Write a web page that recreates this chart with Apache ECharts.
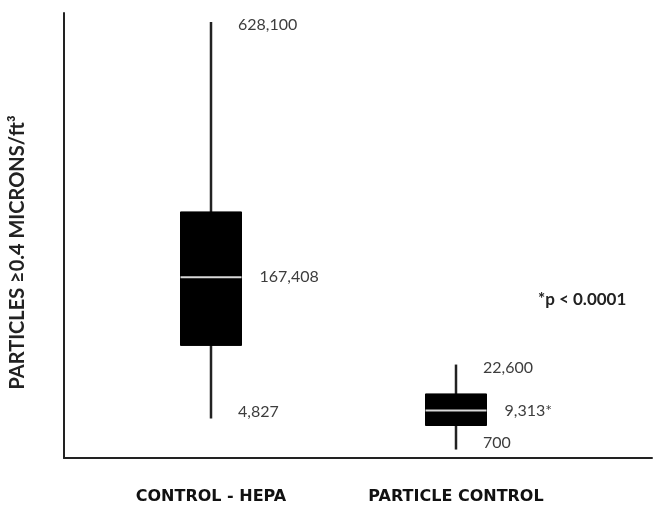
<!DOCTYPE html>
<html>
<head>
<meta charset="utf-8">
<script src="https://cdn.jsdelivr.net/npm/echarts@6/dist/echarts.min.js"></script>
<style>
  html, body { margin: 0; padding: 0; background: #fff; }
  #chart { width: 655px; height: 505px; }
</style>
</head>
<body>
<div id="chart"></div>
<script>
// Categories and their positions along the (hidden) x scale
const categories = ['CONTROL - HEPA', 'PARTICLE CONTROL'];
const categoryX = [3, 8];

// Box geometry as drawn in the figure (schematic, unlabelled y scale 0-100):
// [min, Q1, median, Q3, max]
const hepaBox = [8.9, 25.3, 40.6, 55.3, 98.0];
const particleBox = [1.9, 7.3, 10.7, 14.4, 21.0];

// Value labels printed on the figure: [max, median, min]
const hepaLabels = ['628,100', '167,408', '4,827'];
const particleLabels = ['22,600', '9,313*', '700'];

const pValueText = '*p < 0.0001';
const yAxisTitle = 'PARTICLES \u22650.4 MICRONS/ft\u00B3';

const boxes = [hepaBox, particleBox];
const labelSets = [hepaLabels, particleLabels];
const seriesData = categoryX.map((x, i) => [x].concat(boxes[i]));

const chart = echarts.init(document.getElementById('chart'));

const labelFont = { fontFamily: 'Lato', fontSize: 16, fill: '#3d3d3d' };

chart.setOption({
  animation: false,
  backgroundColor: '#ffffff',
  grid: { left: 64, right: 0, top: 13, bottom: 47, containLabel: false },
  xAxis: {
    type: 'value',
    min: 0,
    max: 12,
    interval: 1,
    axisLine: { show: true, lineStyle: { color: '#222', width: 2 } },
    axisTick: { show: false },
    splitLine: { show: false },
    axisLabel: {
      margin: 31,
      fontFamily: 'DejaVu Sans',
      fontWeight: 'bold',
      fontSize: 16,
      color: '#111',
      showMinLabel: true,
      showMaxLabel: true,
      formatter: function (v) {
        const idx = categoryX.indexOf(v);
        return idx >= 0 ? categories[idx] : '';
      }
    }
  },
  yAxis: {
    type: 'value',
    min: 0,
    max: 100,
    name: yAxisTitle,
    nameLocation: 'middle',
    nameRotate: 90,
    nameGap: 36,
    nameTextStyle: {
      fontFamily: 'Lato',
      fontWeight: 'bold',
      fontSize: 20,
      color: '#222',
      padding: [0, 34, 0, 0]
    },
    axisLine: { show: true, onZero: false, lineStyle: { color: '#222', width: 2 } },
    axisTick: { show: false },
    axisLabel: { show: false },
    splitLine: { show: false }
  },
  series: [{
    type: 'custom',
    data: seriesData,
    clip: false,
    renderItem: function (params, api) {
      const x = api.value(0);
      const pMin = api.coord([x, api.value(1)]);
      const yQ1 = api.coord([x, api.value(2)])[1];
      const yMed = api.coord([x, api.value(3)])[1];
      const yQ3 = api.coord([x, api.value(4)])[1];
      const yMax = api.coord([x, api.value(5)])[1];
      const cx = pMin[0];
      const yMin = pMin[1];
      const half = 30.5;
      const labels = labelSets[params.dataIndex];
      return {
        type: 'group',
        children: [
          {
            type: 'line',
            shape: { x1: cx, y1: yMax, x2: cx, y2: yMin },
            style: { stroke: '#222', lineWidth: 2.5 }
          },
          {
            type: 'rect',
            shape: { x: cx - half, y: yQ3, width: half * 2, height: yQ1 - yQ3 },
            style: { fill: '#000', stroke: '#000', lineWidth: 1 }
          },
          {
            type: 'line',
            shape: { x1: cx - half, y1: yMed, x2: cx + half, y2: yMed },
            style: { stroke: '#d8d8d8', lineWidth: 2 }
          },
          {
            type: 'text',
            x: cx + 27, y: yMax + 3,
            style: Object.assign({ text: labels[0], verticalAlign: 'middle', align: 'left' }, labelFont)
          },
          {
            type: 'text',
            x: cx + half + 18, y: yMed,
            style: Object.assign({ text: labels[1], verticalAlign: 'middle', align: 'left' }, labelFont)
          },
          {
            type: 'text',
            x: cx + 27, y: yMin - 7,
            style: Object.assign({ text: labels[2], verticalAlign: 'middle', align: 'left' }, labelFont)
          }
        ]
      };
    }
  }],
  graphic: [{
    type: 'text',
    left: 538,
    top: 291,
    style: {
      text: pValueText,
      fontFamily: 'Lato',
      fontWeight: 'bold',
      fontSize: 17,
      fill: '#222'
    }
  }]
});
</script>
</body>
</html>
